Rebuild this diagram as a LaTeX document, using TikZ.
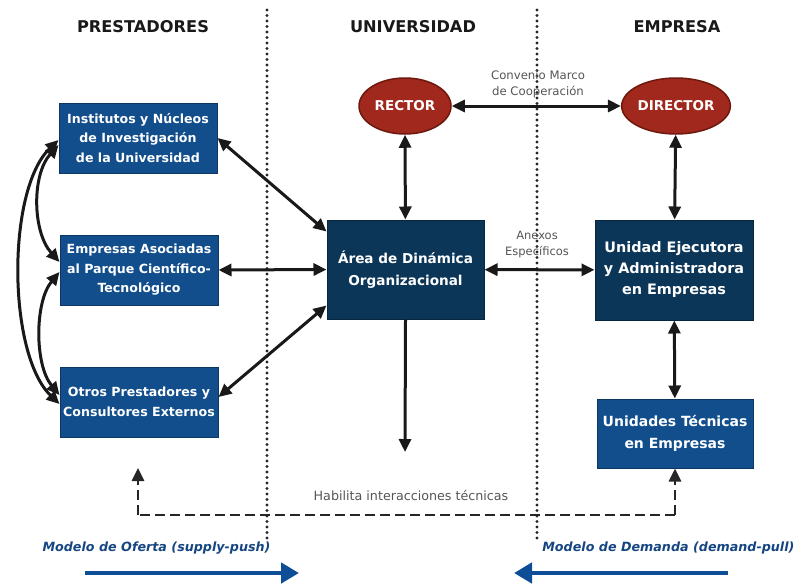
\documentclass[tikz,border=0pt]{standalone}
\usepackage{fontspec}
\setmainfont{DejaVu Sans}
\usetikzlibrary{arrows.meta,shapes.geometric}
\definecolor{boxblue}{RGB}{18,78,140}
\definecolor{boxnavy}{RGB}{12,54,88}
\definecolor{rectred}{RGB}{160,40,28}
\definecolor{rectedge}{RGB}{110,24,14}
\definecolor{labelgray}{RGB}{85,85,85}
\definecolor{modelblue}{RGB}{22,70,130}
\definecolor{pushblue}{RGB}{14,78,150}
\tikzset{
  header/.style={font=\bfseries\fontsize{16.2}{18}\selectfont, text=black!90},
  provbox/.style={draw=boxblue!70!black, line width=1pt, fill=boxblue, text=white,
    font=\bfseries\fontsize{12.6}{19.5}\selectfont, align=center,
    minimum width=158pt, minimum height=70pt, inner sep=0pt},
  corebox/.style={draw=boxnavy!70!black, line width=1pt, fill=boxnavy, text=white,
    font=\bfseries\fontsize{13.6}{21.5}\selectfont, align=center,
    minimum width=157pt, minimum height=99pt, inner sep=0pt},
  techbox/.style={provbox, font=\bfseries\fontsize{14}{21.5}\selectfont,
    minimum width=156pt, minimum height=69pt},
  boss/.style={ellipse, draw=rectedge, line width=1.5pt, fill=rectred, text=white,
    font=\bfseries\fontsize{13.5}{14}\selectfont, minimum width=92pt, minimum height=56pt,
    inner sep=0pt},
  note/.style={text=labelgray, font=\fontsize{11.7}{16}\selectfont, align=center},
  model/.style={text=modelblue, font=\bfseries\itshape\fontsize{12.7}{14}\selectfont},
  link/.style={line width=3pt, black!90},
  tip/.tip={Triangle[length=13pt,width=12pt]},
  both/.style={link, {tip}-{tip}},
  fwd/.style={link, -{tip}},
  divider/.style={line width=3.2pt, black!85, line cap=round, dash pattern=on 0pt off 5.5pt},
  dashlink/.style={line width=2.8pt, black!85, dash pattern=on 10pt off 5pt},
  push/.style={line width=4.5pt, pushblue, -{Triangle[length=18pt,width=20pt]}}
}
\begin{document}
\begin{tikzpicture}[x=1pt,y=-1pt]
\useasboundingbox (0,0) rectangle (799,584);

% column dividers
\coordinate (d1t) at (267,10);
\coordinate (d1b) at (267,538);
\coordinate (d2t) at (537,10);
\coordinate (d2b) at (537,538);
\draw[divider] (d1t) -- (d1b);
\draw[divider] (d2t) -- (d2b);

% column headings
\node[header] (hp) at (143,27) {PRESTADORES};
\node[header] (hu) at (413,27) {UNIVERSIDAD};
\node[header] (he) at (677,27) {EMPRESA};

% providers
\node[provbox] (b1) at (138,138) {Institutos y Núcleos\\de Investigación\\de la Universidad};
\node[provbox] (b2) at (139,270) {Empresas Asociadas\\al Parque Científico-\\Tecnológico};
\node[provbox] (b3) at (139,402) {Otros Prestadores y\\Consultores Externos};

% university
\node[boss] (rector) at (405,106) {RECTOR};
\node[corebox] (area) at (405.5,269.5) {Área de Dinámica\\Organizacional};

% company
\node[boss] (director) at (676,106) {DIRECTOR};
\node[corebox, minimum width=158pt, minimum height=100pt, font=\bfseries\fontsize{14.4}{21}\selectfont] (ueje) at (674,270) {Unidad Ejecutora\\y Administradora\\en Empresas};
\node[techbox] (utec) at (675,433.5) {Unidades Técnicas\\en Empresas};

% agreements
\draw[both] (rector) -- (director);
\node[note] (conv) at (538,84) {Convenio Marco\\de Cooperación};
\draw[both] (rector) -- (area);
\draw[both] (director) -- (ueje);
\draw[both] (area) -- (ueje);
\node[note, font=\fontsize{11.5}{16}\selectfont] (anex) at (537,244) {Anexos\\Específicos};
\draw[both] (ueje) -- (utec);

% providers to the area
\draw[both] (b1.east) -- ([yshift=-12pt]area.north west);
\draw[both] (b2.east) -- (area.west);
\draw[both] ([yshift=5pt]b3.east) -- ([yshift=14pt]area.south west);

% links among providers
\draw[both] ([yshift=-2pt]b1.west) .. controls +(-52,50) and +(-52,-50) .. ([yshift=-2pt]b3.west);
\draw[both] ([yshift=-7pt]b1.west) .. controls +(-27,30) and +(-27,-30) .. ([yshift=8pt]b2.west);
\draw[both] ([yshift=-2pt]b2.west) .. controls +(-25,30) and +(-25,-30) .. ([yshift=7pt]b3.west);

% technical interactions
\coordinate (adown) at (405,452);
\draw[fwd] (area.south) -- (adown);
\coordinate (dl) at (138,515);
\coordinate (dr) at (675,515);
\coordinate (dltop) at (138,468);
\draw[dashlink] (dr) -- (dl);
\draw[dashlink, -{tip}] (dl) -- (dltop);
\draw[dashlink, -{tip}] (dr) -- (utec.south);
\node[note, font=\fontsize{12.7}{14}\selectfont] (hab) at (411,495) {Habilita interacciones técnicas};

% supply and demand models
\node[model, anchor=west] (mo) at (39,548) {Modelo de Oferta (supply-push)};
\node[model, anchor=east] (md) at (798,548) {Modelo de Demanda (demand-pull)};
\coordinate (p1) at (85,573);
\coordinate (p2) at (299,573);
\coordinate (q1) at (728,573);
\coordinate (q2) at (514,573);
\draw[push] (p1) -- (p2);
\draw[push] (q1) -- (q2);
\end{tikzpicture}
\end{document}
